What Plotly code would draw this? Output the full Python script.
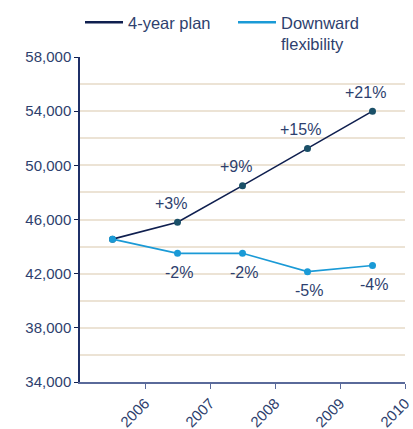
import plotly.graph_objects as go

years = [2005.5, 2006.5, 2007.5, 2008.5, 2009.5]
plan = [44550, 45800, 48500, 51250, 54000]
flex = [44550, 43500, 43500, 42150, 42600]
plan_labels = ["", "+3%", "+9%", "+15%", "+21%"]
flex_labels = ["", "-2%", "-2%", "-5%", "-4%"]
xticks = [2006, 2007, 2008, 2009, 2010]
yticks = [34000, 38000, 42000, 46000, 50000, 54000, 58000]

NAVY = "#0f1f4f"
TEAL = "#1a5068"
BLUE = "#1a9ad6"
TXT = "#2e3f6e"
GRID = "#ece3d5"

fig = go.Figure()
fig.add_trace(go.Scatter(x=years, y=plan, mode="lines+markers", name="4-year plan",
                         line=dict(color=NAVY, width=1.6),
                         marker=dict(color=TEAL, size=7), showlegend=False))
fig.add_trace(go.Scatter(x=years, y=flex, mode="lines+markers", name="Downward flexibility",
                         line=dict(color=BLUE, width=1.6),
                         marker=dict(color=BLUE, size=7), showlegend=False))
# legend entries (line only)
fig.add_trace(go.Scatter(x=[None], y=[None], mode="lines", name="4-year plan",
                         line=dict(color=NAVY, width=2.5)))
fig.add_trace(go.Scatter(x=[None], y=[None], mode="lines", name="Downward<br>flexibility",
                         line=dict(color=BLUE, width=2.5)))

for x, y, t in zip(years, plan, plan_labels):
    if t:
        fig.add_annotation(x=x, y=y, text=t, showarrow=False, xshift=-7, yshift=19,
                           font=dict(size=16, color=TXT))
for x, y, t in zip(years, flex, flex_labels):
    if t:
        fig.add_annotation(x=x, y=y, text=t, showarrow=False, xshift=1, yshift=-19,
                           font=dict(size=16, color=TXT))

fig.update_layout(
    width=413, height=429,
    margin=dict(l=80, r=8, t=57, b=47, autoexpand=False),
    paper_bgcolor="white", plot_bgcolor="white",
    font=dict(family="Arial, Liberation Sans, sans-serif", size=15, color=TXT),
    legend=dict(orientation="h", x=0, xanchor="left", y=1.16, yanchor="top",
                valign="top", itemwidth=38, entrywidth=100, entrywidthmode="pixels",
                font=dict(size=16.5, color=TXT), tracegroupgap=0),
    showlegend=True,
)
fig.update_xaxes(range=[2005, 2010], tickvals=xticks, ticktext=[str(v) for v in xticks],
                 tickangle=-45, ticks="outside", ticklen=5, tickcolor="#5a6a9a",
                 showline=True, linecolor="#5a6a9a", linewidth=1.5, showgrid=False,
                 zeroline=False, tickfont=dict(size=15, color=TXT))
fig.update_yaxes(range=[34000, 58000], tickvals=yticks, tickformat=",",
                 ticks="outside", ticklen=4, tickcolor=NAVY,
                 showline=True, linecolor="#1f3068", linewidth=1.5,
                 showgrid=True, gridcolor=GRID, gridwidth=2,
                 minor=dict(dtick=2000, tick0=34000, showgrid=True, gridcolor=GRID, gridwidth=2),
                 zeroline=False, tickfont=dict(size=15, color=TXT))

fig.write_html("out.html")
